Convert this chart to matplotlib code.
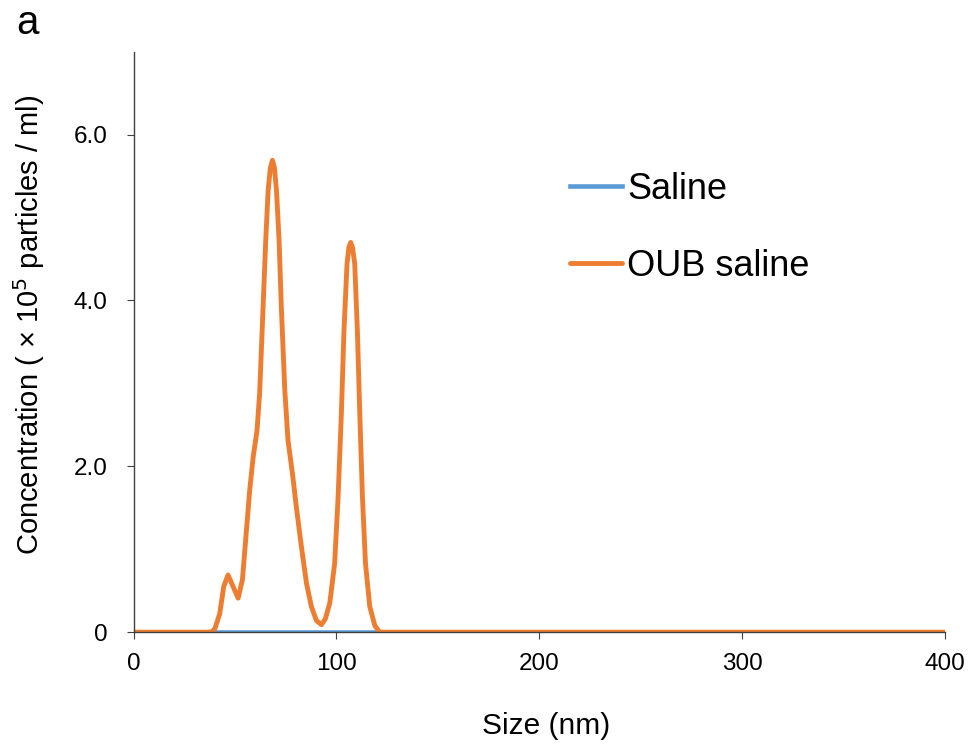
import matplotlib.pyplot as plt

plt.rcParams["font.family"] = ["Liberation Sans", "DejaVu Sans"]

# Taille des particules (nm) et concentration (x10^5 particules / ml)
size_nm = [0, 36, 38.5, 40.0, 42.4, 44.4, 46.5, 49.0, 51.5, 53.6, 55.2, 57.2,
           58.9, 60.8, 62.1, 63.8, 65.1, 66.3, 67.4, 68.4, 69.4, 70.4, 71.7,
           72.8, 74.5, 76.1, 78.3, 80.2, 82.7, 85.2, 87.6, 90.1, 92.6, 94.5,
           96.7, 99.1, 100.8, 102.4, 103.7, 105.2, 106.1, 107.0, 107.9, 109.0,
           110.3, 111.5, 112.8, 114.3, 116.4, 118.9, 121.3, 124, 400]
oub_saline = [0, 0, 0.005, 0.04, 0.22, 0.55, 0.69, 0.55, 0.41, 0.63, 1.11,
              1.71, 2.11, 2.43, 2.88, 3.92, 4.72, 5.33, 5.6, 5.69, 5.6, 5.33,
              4.72, 3.92, 2.92, 2.31, 1.91, 1.51, 1.03, 0.59, 0.31, 0.14, 0.09,
              0.16, 0.35, 0.83, 1.63, 2.63, 3.64, 4.44, 4.64, 4.70, 4.64, 4.44,
              3.64, 2.63, 1.63, 0.83, 0.31, 0.08, 0.0, 0, 0]
saline = [0] * len(size_nm)

y_ticks = [0, 2, 4, 6]
y_tick_labels = ["0", "2.0", "4.0", "6.0"]
x_ticks = [0, 100, 200, 300, 400]

fig = plt.figure(figsize=(9.69, 7.49), dpi=100)
ax = fig.add_axes([0.138, 0.156, 0.837, 0.775])

ax.plot(size_nm, saline, color="#5B9BD5", lw=3.3, label="Saline")
ax.plot(size_nm, oub_saline, color="#ED7D31", lw=3.5, label="OUB saline",
        solid_joinstyle="round", solid_capstyle="round")

ax.set_xlim(0, 400)
ax.set_ylim(0, 7)
ax.set_xticks(x_ticks)
ax.set_yticks(y_ticks)
ax.set_yticklabels(y_tick_labels)
ax.spines["top"].set_visible(False)
ax.spines["right"].set_visible(False)
for s in ("left", "bottom"):
    ax.spines[s].set_color("#404040")
    ax.spines[s].set_linewidth(1.0)
ax.tick_params(axis="both", labelsize=17.5, length=5, color="#404040")
ax.tick_params(axis="y", pad=14)
ax.tick_params(axis="x", pad=10)

ax.set_xlabel("Size (nm)", fontsize=21.5)
ax.xaxis.set_label_coords(0.509, -0.137)
ax.set_ylabel("Concentration ( × 10$^5$ particles / ml)", fontsize=21)
ax.yaxis.set_label_coords(-0.107, 0.53)

ax.legend(loc="upper left", bbox_to_anchor=(0.538, 0.793), frameon=False,
          fontsize=26, handlelength=1.43, handletextpad=0.15, labelspacing=1.17,
          borderpad=0, borderaxespad=0)

fig.text(0.028, 0.969, "a", fontsize=29, ha="center", va="center")

plt.savefig("out.png", dpi=100)
plt.close()
